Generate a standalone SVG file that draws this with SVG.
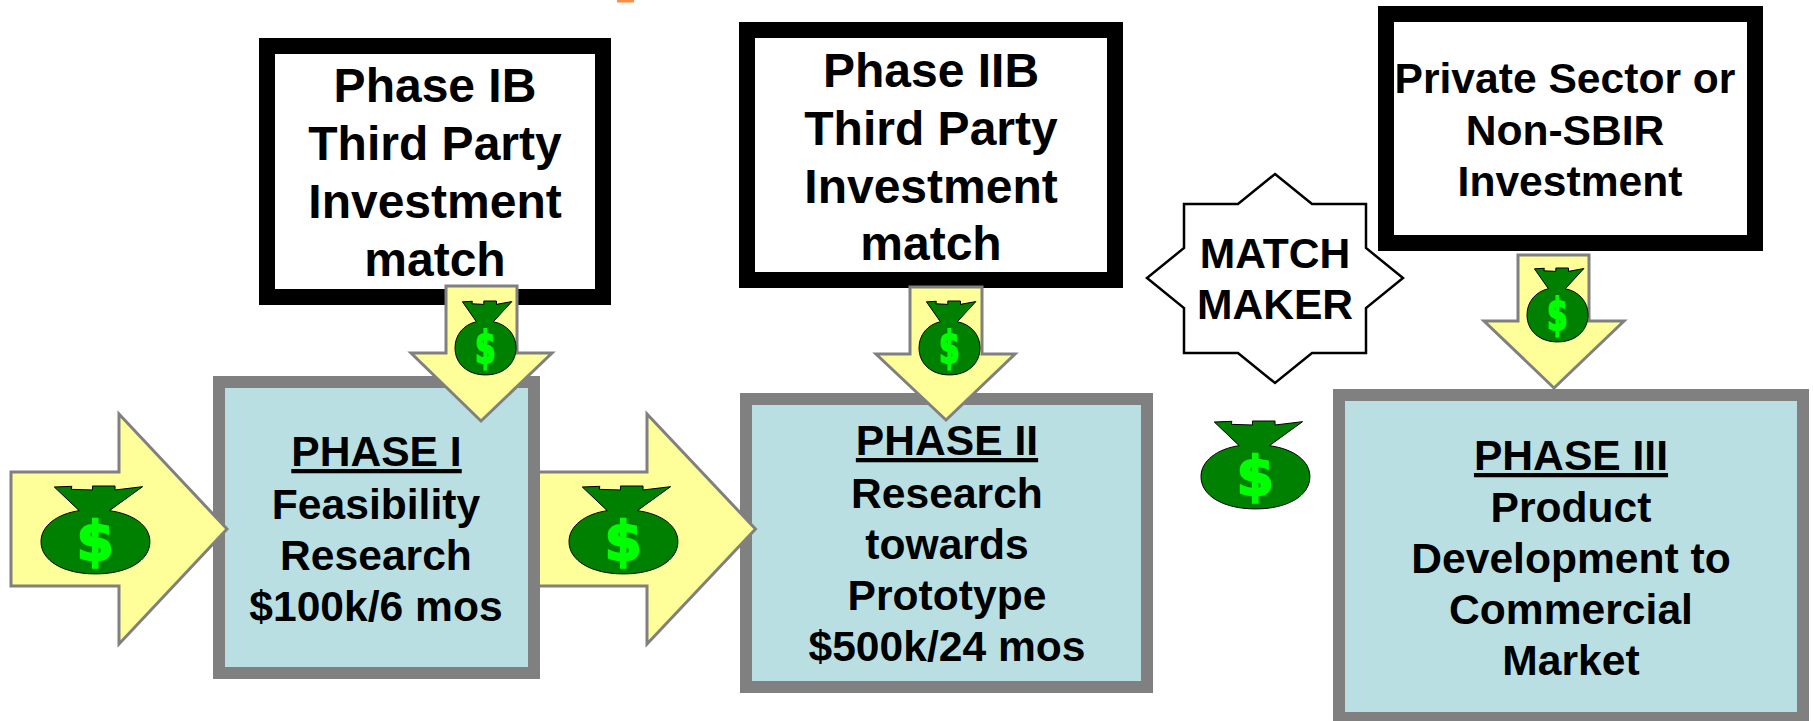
<svg xmlns="http://www.w3.org/2000/svg" xmlns:xlink="http://www.w3.org/1999/xlink" width="1813" height="721" viewBox="0 0 1813 721">
<style>
text{font-family:"Liberation Sans",Arial,sans-serif;font-weight:700;fill:#000;text-anchor:middle}
.t48{font-size:48px}.t42{font-size:42.600px}
.u{text-decoration:underline}
.phase{fill:#b9dfe3;stroke:#808080;stroke-width:12}
.inv{fill:#fff;stroke:#000;stroke-width:16}
.arrow{fill:#ffff99;stroke:#808080;stroke-width:3;stroke-linejoin:miter}
.bagbody{fill:#008000;stroke:#000;stroke-width:1;vector-effect:non-scaling-stroke}
.dollar{font-family:"DejaVu Sans",sans-serif;font-size:160px;fill:#00ff00;stroke:#00ff00;stroke-width:7}
</style>
<defs>
<g id="bag">
<path class="bagbody" d="M40 3L93 1L91 10L155 12L155 0L223 0L223 12L306 2L206 74C280 84 328 120 328 167C328 225 260 264 164 264C68 264 0 225 0 167C0 120 48 84 115 74Z"/>
<text class="dollar" x="163" y="222">$</text>
</g>
</defs>
<rect id="accent" x="617" y="0" width="17" height="2.500" fill="#ff8c42"/>
<g id="phase-1">
<rect class="phase" x="219" y="382" width="315" height="291"/>
<text class="t42" x="376.500" y="466"><tspan class="u">PHASE I</tspan></text>
<text class="t42" x="376" y="519">Feasibility</text>
<text class="t42" x="376" y="570">Research</text>
<text class="t42" x="376" y="621">$100k/6 mos</text>
</g>
<g id="phase-2">
<rect class="phase" x="746" y="399" width="401" height="288"/>
<text class="t42" x="947" y="455"><tspan class="u">PHASE II</tspan></text>
<text class="t42" x="947" y="508">Research</text>
<text class="t42" x="947" y="559">towards</text>
<text class="t42" x="947" y="610">Prototype</text>
<text class="t42" x="947" y="661">$500k/24 mos</text>
</g>
<g id="phase-3">
<rect class="phase" x="1339" y="395" width="464" height="323"/>
<text class="t42" x="1571" y="470"><tspan class="u">PHASE III</tspan></text>
<text class="t42" x="1571" y="522">Product</text>
<text class="t42" x="1571" y="573">Development to</text>
<text class="t42" x="1571" y="624">Commercial</text>
<text class="t42" x="1571" y="675">Market</text>
</g>
<g id="phase-1b">
<rect class="inv" x="267" y="46" width="336" height="251"/>
<text class="t48" x="435" y="102">Phase IB</text>
<text class="t48" x="435" y="160">Third Party</text>
<text class="t48" x="435" y="218">Investment</text>
<text class="t48" x="435" y="276">match</text>
</g>
<g id="phase-2b">
<rect class="inv" x="747" y="30" width="368" height="250"/>
<text class="t48" x="931" y="87">Phase IIB</text>
<text class="t48" x="931" y="145">Third Party</text>
<text class="t48" x="931" y="203">Investment</text>
<text class="t48" x="931" y="260">match</text>
</g>
<g id="private-sector">
<rect class="inv" x="1386" y="14" width="369" height="229"/>
<text class="t42" x="1565" y="93">Private Sector or</text>
<text class="t42" x="1565" y="145">Non-SBIR</text>
<text class="t42" x="1570" y="196">Investment</text>
</g>
<g id="match-maker">
<polygon points="1275,174 1312,204 1366,204 1366,248 1403,278 1366,308 1366,353 1312,353 1275,383 1238,353 1184,353 1184,308 1147,278 1184,248 1184,204 1238,204" fill="#fff" stroke="#000" stroke-width="2.500"/>
<text class="t42" x="1275" y="268">MATCH</text>
<text class="t42" x="1275" y="319">MAKER</text>
</g>
<g id="connectors">
<polygon class="arrow" points="11,472 119,472 119,414 227,529 119,644 119,586 11,586"/>
<path class="arrow" d="M540 472L647 472L647 414L755.500 529L647 644L647 586L540 586"/>
<polygon class="arrow" points="446,286 517,286 517,353 552,353 481,421 411,353 446,353"/>
<polygon class="arrow" points="910,287 982,287 982,354 1015,354 946,420 876,354 910,354"/>
<polygon class="arrow" points="1518,255 1589,255 1589,321 1624,321 1554,388 1484,321 1518,321"/>
</g>
<g id="bags">
<use xlink:href="#bag" href="#bag" transform="translate(41 486) scale(.332 .333)"/>
<use xlink:href="#bag" href="#bag" transform="translate(569 486) scale(.332 .333)"/>
<use xlink:href="#bag" href="#bag" transform="translate(1201 421) scale(.332 .333)"/>
<use xlink:href="#bag" href="#bag" transform="translate(455 301) scale(.186 .28)"/>
<use xlink:href="#bag" href="#bag" transform="translate(919 301) scale(.186 .28)"/>
<use xlink:href="#bag" href="#bag" transform="translate(1527 268) scale(.186 .28)"/>
</g>
</svg>
